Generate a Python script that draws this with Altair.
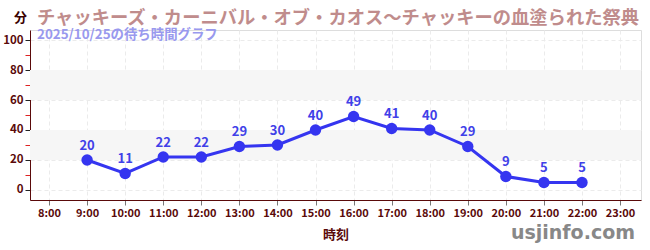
import altair as alt
import pandas as pd

hours = [9, 10, 11, 12, 13, 14, 15, 16, 17, 18, 19, 20, 21, 22]
waits = [20, 11, 22, 22, 29, 30, 40, 49, 41, 40, 29, 9, 5, 5]
band_lo = [20, 60]
band_hi = [40, 80]
x_ticks = list(range(8, 24))
y_ticks = list(range(0, 101, 10))

title_text = "チャッキーズ・カーニバル・オブ・カオス～チャッキーの血塗られた祭典"
subtitle_text = "2025/10/25の待ち時間グラフ"

df = pd.DataFrame({"hour": hours, "wait": waits})
bands = pd.DataFrame({"lo": band_lo, "hi": band_hi})

W, H = 611, 170
FONT = "Noto Sans CJK JP"
AX = "#5a0a0a"
BLUE = "#3535f0"

xscale = alt.Scale(domain=[7.5, 23.55], nice=False, zero=False)
yscale = alt.Scale(domain=[-6.7, 106.7], nice=False, zero=False)

xaxis = alt.Axis(values=x_ticks, labelExpr="datum.value + ':00'", title="時刻",
                 grid=True, gridDash=[4, 3], gridColor="#ebebeb",
                 domainColor=AX, tickColor="#777777", tickSize=5,
                 labelColor=AX, labelFont=FONT, labelFontSize=11, labelFontWeight="bold",
                 titleColor=AX, titleFont=FONT, titleFontSize=13, titleFontWeight="bold",
                 titlePadding=10)
yaxis = alt.Axis(values=y_ticks, labelExpr="datum.value % 20 == 0 ? datum.label : ''",
                 title="分", titleAngle=0, titleX=-10, titleY=-13,
                 titleAlign="center", titleBaseline="middle",
                 grid=True, gridDash=[4, 3],
                 gridColor={"condition": {"test": "datum.value % 20 == 0", "value": "#ebebeb"}, "value": "transparent"},
                 tickColor={"condition": {"test": "datum.value % 20 == 0", "value": "#222222"}, "value": "#dd2222"},
                 domainColor=AX, tickSize=5,
                 labelColor=AX, labelFont=FONT, labelFontSize=11.5, labelFontWeight="bold",
                 titleColor="#3a0000", titleFont=FONT, titleFontSize=13, titleFontWeight="bold")

band = alt.Chart(bands).mark_rect(color="#f6f6f6").encode(
    x=alt.value(0), x2=alt.value(W),
    y=alt.Y("lo:Q", scale=yscale, axis=yaxis),
    y2="hi:Q",
)

base = alt.Chart(df).encode(
    x=alt.X("hour:Q", scale=xscale, axis=xaxis),
    y=alt.Y("wait:Q", scale=yscale, axis=yaxis),
)
line = base.mark_line(color=BLUE, strokeWidth=3)
pts = base.mark_circle(color=BLUE, size=130, opacity=1)
labels = base.mark_text(dy=-14, color="#4040e8", font=FONT, fontSize=13, fontWeight="bold").encode(
    text="wait:Q")

wm = alt.Chart(pd.DataFrame({"t": ["usjinfo.com"]})).mark_text(
    align="right", baseline="middle", color="#888888", font="DejaVu Sans",
    fontSize=19, fontWeight="bold").encode(
    x=alt.value(W - 6), y=alt.value(H + 33), text="t:N")

chart = alt.layer(band, line, pts, labels, wm).properties(
    width=W, height=H,
    autosize=alt.AutoSizeParams(type="none"),
    padding={"left": 30, "top": 30, "right": 9, "bottom": 50},
    title=alt.TitleParams(text=title_text, subtitle=subtitle_text, anchor="start",
                          frame="group", dx=7, offset=-31,
                          font=FONT, fontSize=18.3, fontWeight="bold", color="#c08c8c",
                          subtitleFont=FONT, subtitleFontSize=13.4, subtitleFontWeight="bold",
                          subtitleColor="#9999ee", subtitlePadding=-1),
).configure_view(stroke=None).configure(background="white")

chart.save("out.html", embed_options={"renderer": "svg", "actions": False})
